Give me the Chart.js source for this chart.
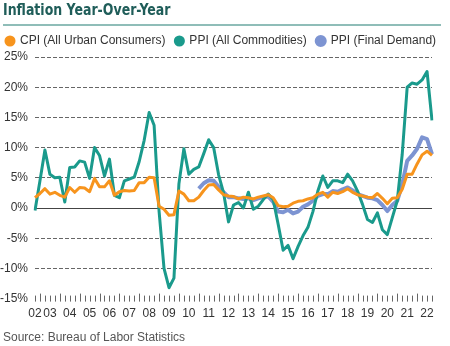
<!DOCTYPE html>
<html>
<head>
<meta charset="utf-8">
<script src="https://cdn.jsdelivr.net/npm/chart.js@4.4.1/dist/chart.umd.min.js"></script>
<style>
  html, body { margin:0; padding:0; background:#fff; }
  #wrap { position:relative; width:450px; height:346px; overflow:hidden; }
  canvas { position:absolute; left:0; top:0; }
  #title {
    position:absolute; left:3px; top:1px;
    font: bold 15.5px "Liberation Sans Narrow", "Arial Narrow", "DejaVu Sans Condensed", sans-serif;
    color:#1f5d59; white-space:nowrap;
    transform: scaleX(0.9); transform-origin: left top;
  }
  #rule { position:absolute; left:3px; top:24px; width:438px; height:2px; background:#8fbdb8; }
  #source {
    position:absolute; left:3px; top:330px;
    font: 12px "Liberation Sans", Arial, sans-serif; color:#555; white-space:nowrap;
  }
</style>
</head>
<body>
<div id="wrap">
  <canvas id="chart" width="450" height="346"></canvas>
  <div id="title">Inflation Year-Over-Year</div>
  <div id="rule"></div>
  <div id="source">Source: Bureau of Labor Statistics</div>
</div>
<script>
// ---------------------------
// Data (quarterly, 2002 Q4 .. 2022 Q4)
// ---------------------------
const yearLabels = ["02","03","04","05","06","07","08","09","10","11","12",
                    "13","14","15","16","17","18","19","20","21","22"];

const quarters = [];
for(let y = 2002; y <= 2022; y++){
  for(let q = 1; q <= 4; q++){
    if(y === 2002 && q < 4) continue;
    quarters.push(y + " Q" + q);
  }
}

const cpi = [
  1.7, 2.4, 3.2, 2.3, 2.6, 2.1, 1.8, 3.4, 2.6, 3.4,
  3.3, 2.7, 4.9, 3.5, 3.5, 4.5, 2.1, 2.7, 2.9, 2.8,
  2.9, 4.2, 4.2, 5.1, 5.0, 0.3, -0.2, -1.2, -1.1, 2.8,
  2.3, 1.2, 1.2, 1.8, 2.9, 3.8, 3.9, 3.0, 2.2, 2.0,
  1.9, 1.5, 1.8, 1.7, 1.5, 1.8, 2.0, 2.2, 1.7, 0.4,
  0.2, 0.3, 0.8, 1.1, 1.2, 1.5, 1.7, 2.3, 2.6, 1.8,
  2.6, 2.4, 2.7, 3.2, 2.6, 2.2, 2.0, 1.8, 1.7, 2.4,
  1.6, 0.7, 1.6, 1.7, 3.1, 5.6, 5.6, 7.3, 8.8, 9.4,
  8.7
];

const ppiAll = [
  -0.4, 4.5, 9.6, 5.6, 5.0, 5.1, 1.0, 6.7, 6.8, 7.8,
  7.6, 4.9, 10.0, 8.7, 5.3, 8.1, 2.1, 1.7, 4.5, 4.8,
  5.1, 7.7, 11.2, 15.8, 13.7, -0.5, -10.0, -13.2, -11.6, 4.0,
  9.8, 5.6, 6.4, 6.8, 9.0, 11.3, 10.0, 5.5, 2.5, -2.3,
  0.5, 0.9, 0.0, 2.6, -0.2, 0.3, 1.4, 2.3, 1.4, -2.7,
  -7.0, -6.2, -8.4, -6.4, -4.6, -3.2, -0.6, 2.8, 5.3, 3.4,
  4.5, 4.5, 4.2, 5.6, 4.5, 2.8, 0.6, -1.9, -2.4, -0.8,
  -3.6, -4.4, -1.6, 1.2, 8.9, 20.0, 20.7, 20.5, 21.2, 22.6,
  14.5
];

// series starts late 2010
const ppiFinal = [
  null, null, null, null, null, null, null, null, null, null,
  null, null, null, null, null, null, null, null, null, null,
  null, null, null, null, null, null, null, null, null, null,
  null, null, null, 3.2, 4.1, 4.6, 4.5, 3.5, 2.6, 1.8,
  1.8, 1.6, 1.5, 1.6, 1.3, 1.6, 1.8, 1.9, 1.0, -0.6,
  -0.7, -0.3, -0.9, -0.6, 0.2, 0.6, 1.2, 2.0, 2.3, 2.3,
  2.8, 2.7, 3.1, 3.4, 2.9, 2.3, 2.0, 1.7, 1.6, 1.3,
  0.5, -0.5, 0.5, 1.2, 3.9, 7.8, 8.7, 9.8, 11.7, 11.4,
  8.9
];

// ---------------------------
// Plugins
// ---------------------------
const quarterTicks = {
  id: "quarterTicks",
  afterDatasetsDraw(chart){
    const ctx = chart.ctx;
    const x = chart.scales.x;
    const bottom = chart.chartArea.bottom;
    ctx.save();
    ctx.strokeStyle = "#666";
    ctx.lineWidth = 1;
    for(let i = 0; i < quarters.length; i++){
      const px = Math.round(x.getPixelForValue(i)) + 0.5;
      const major = i % 4 === 1;
      ctx.beginPath();
      ctx.moveTo(px, bottom - (major ? 5 : 3));
      ctx.lineTo(px, bottom + 3);
      ctx.stroke();
    }
    ctx.restore();
  }
};

// one legend row, fixed height so the plot starts where it should
const legendHeight = {
  id: "legendHeight",
  beforeInit(chart){
    const fit = chart.legend.fit;
    chart.legend.fit = function(){
      const mw = this.maxWidth;
      this.maxWidth = mw + 30;
      fit.bind(chart.legend)();
      this.maxWidth = mw;
      this.width = mw;
      this.height = 32;
    };
  }
};

Chart.defaults.font.family = '"Liberation Sans", Arial, sans-serif';
Chart.defaults.color = "#333";

const line = (label, data, color, width, order) => ({
  label, data, order,
  borderColor: color,
  backgroundColor: color,
  borderWidth: width,
  borderJoinStyle: "round",
  pointRadius: 0,
  tension: 0
});

new Chart(document.getElementById("chart"), {
  type: "line",
  data: {
    labels: quarters,
    datasets: [
      line("CPI (All Urban Consumers)", cpi, "#f7941d", 3, 0),
      line("PPI (All Commodities)", ppiAll, "#1a9a8c", 3, 1),
      line("PPI (Final Demand)", ppiFinal, "#7d94d2", 4, 2)
    ]
  },
  options: {
    responsive: false,
    animation: false,
    layout: { padding: { top: 25, right: 0, left: -4, bottom: 25 } },
    plugins: {
      legend: {
        position: "top",
        align: "start",
        labels: {
          usePointStyle: true,
          pointStyle: "circle",
          boxWidth: 8,
          boxHeight: 5.7,
          padding: 10,
          color: "#333",
          font: { size: 12 }
        }
      },
      tooltip: { enabled: false }
    },
    scales: {
      x: {
        offset: false,
        grid: { display: false },
        border: { display: false },
        ticks: {
          autoSkip: false,
          maxRotation: 0,
          padding: 0,
          font: { size: 12 },
          color: "#333",
          callback: (v, i) => {
            if(i === 0) return yearLabels[0];
            if(i % 4 === 3) return yearLabels[(i - 3) / 4 + 1];
            return "";
          }
        }
      },
      y: {
        min: -15,
        max: 25,
        afterFit: (s) => { s.width = 39; },
        ticks: {
          stepSize: 5,
          padding: 7,
          font: { size: 12 },
          color: "#333",
          callback: (v) => v + "%"
        },
        grid: {
          drawTicks: false,
          lineWidth: 1,
          color: (c) => c.tick.value === -15 ? "rgba(0,0,0,0)"
                      : c.tick.value === 0 ? "#444" : "#666"
        },
        border: {
          display: false,
          dash: (c) => c.tick && c.tick.value === 0 ? [] : [4, 2]
        }
      },
      // empty strip on the right so the plot ends short of the edge
      yRight: {
        position: "right",
        min: -15,
        max: 25,
        afterFit: (s) => { s.width = 18; },
        grid: { display: false },
        border: { display: false },
        ticks: { display: false }
      }
    }
  },
  plugins: [quarterTicks, legendHeight]
});
</script>
</body>
</html>
